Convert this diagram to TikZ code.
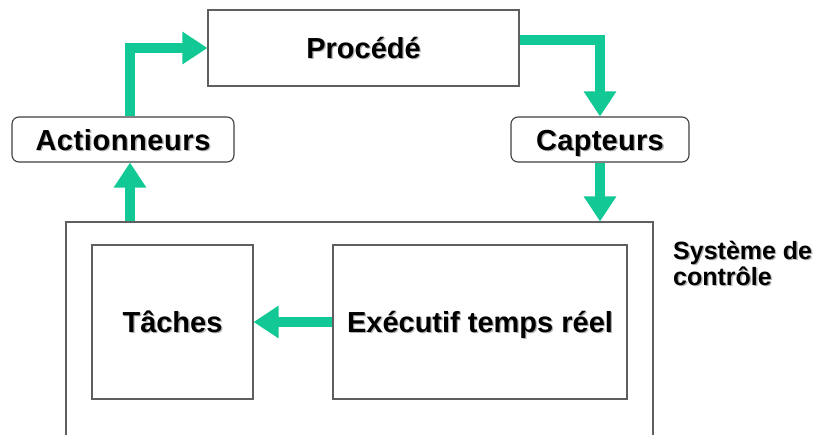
\documentclass[tikz,border=0pt]{standalone}
\usepackage{fontspec}
\setmainfont{Liberation Sans}
\usetikzlibrary{arrows.meta}
\definecolor{arrgreen}{RGB}{18,201,150}
\definecolor{boxline}{RGB}{95,95,95}
\newcommand{\shtx}[1]{\leavevmode\rlap{\hspace{1.3pt}\raisebox{-1.3pt}{\color{black!30}#1}}#1}
\begin{document}
\begin{tikzpicture}[x=1pt,y=-1pt,
  plainbox/.style={draw=boxline,line width=1.1pt,inner sep=0pt,text height=21pt,text depth=1pt,font=\bfseries\fontsize{29}{32}\selectfont},
  roundbox/.style={draw=black!75,line width=1.1pt,rounded corners=7pt,inner sep=0pt,text height=21pt,text depth=0pt,font=\bfseries\fontsize{29}{32}\selectfont},
  arr/.style={draw=arrgreen,line width=10pt,line join=miter,
    -{Triangle[width=31pt,length=25pt]}}]
\useasboundingbox (0,0) rectangle (821,434);
\clip (0,0) rectangle (821,434);
\fill[white] (0,0) rectangle (821,434);

\node[plainbox,minimum width=311pt,minimum height=76pt] (proc) at (363.5,48) {\shtx{Procédé}};
\node[roundbox,minimum width=222pt,minimum height=45pt] (act) at (123,139.5) {\addfontfeature{LetterSpace=2}\shtx{Actionneurs}};
\node[roundbox,minimum width=178pt,minimum height=45pt] (capt) at (600,139.5) {\addfontfeature{LetterSpace=1}\shtx{Capteurs}};
\node[plainbox,minimum width=587pt,minimum height=240pt] (sys) at (359.5,342) {};
\node[plainbox,minimum width=161pt,minimum height=154pt] (taches) at (172.5,322) {\shtx{Tâches}};
\node[plainbox,minimum width=294pt,minimum height=154pt] (exec) at (480,322) {\shtx{Exécutif temps réel}};
\node[anchor=north west,inner sep=0pt,align=left,font=\bfseries\fontsize{25}{26}\selectfont] (lbl) at (673,241)
  {\shtx{Système de}\\\shtx{contrôle}};

\draw[arr] ([xshift=7pt]act.north) |- (proc.west);
\draw[arr] ([yshift=8pt]proc.east) -| (capt.north);
\draw[arr] (capt.south) -- (capt.south |- sys.north);
\draw[arr] ([xshift=7pt]act.south |- sys.north) -- ([xshift=7pt]act.south);
\draw[arr] (exec.west) -- (taches.east);
\end{tikzpicture}
\end{document}
